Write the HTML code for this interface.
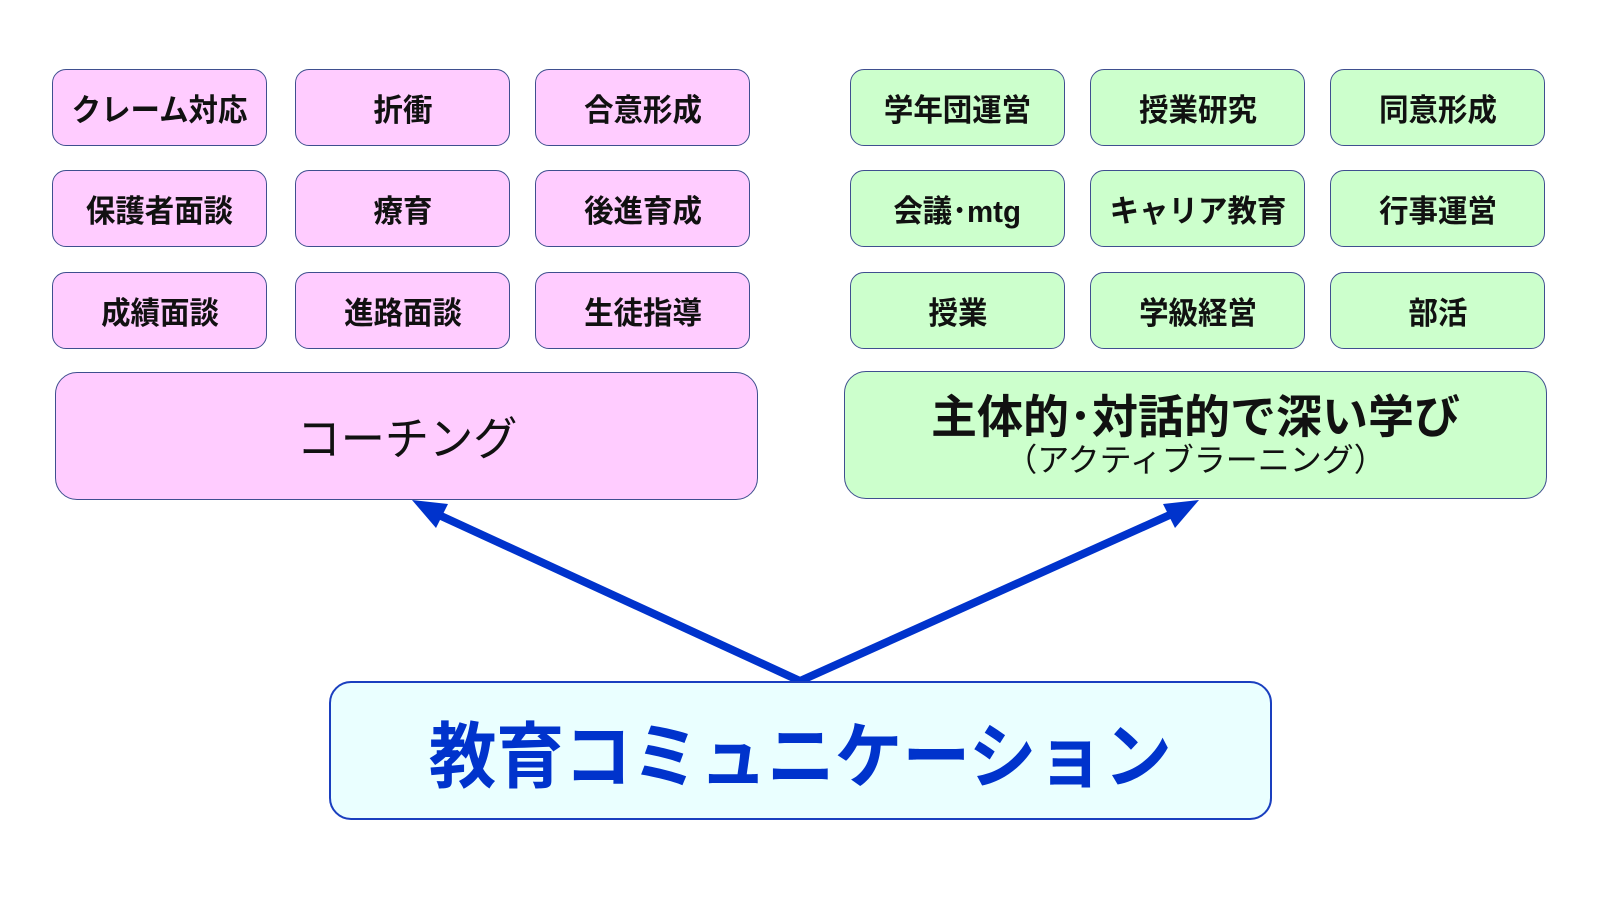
<!DOCTYPE html>
<html><head><meta charset="utf-8"><style>
html,body{margin:0;padding:0;background:#fff;}
body{width:1600px;height:900px;position:relative;overflow:hidden;font-family:"Liberation Sans","Noto Sans CJK JP",sans-serif;}
.b{position:absolute;box-sizing:border-box;border:1.5px solid #3f4f8f;border-radius:14px;display:flex;align-items:center;justify-content:center;flex-direction:column;color:#111;font-weight:bold;}
.p{background:#ffccff;}
.g{background:#ccffcc;}
.s{width:215px;height:77px;font-size:31px;}
.s span{display:inline-block;transform:scaleX(0.95);}
</style></head><body>
<div class="b p s" style="left:52px;top:69px"><span>クレーム対応</span></div>
<div class="b p s" style="left:295px;top:69px"><span>折衝</span></div>
<div class="b p s" style="left:535px;top:69px"><span>合意形成</span></div>
<div class="b p s" style="left:52px;top:170px"><span>保護者面談</span></div>
<div class="b p s" style="left:295px;top:170px"><span>療育</span></div>
<div class="b p s" style="left:535px;top:170px"><span>後進育成</span></div>
<div class="b p s" style="left:52px;top:272px"><span>成績面談</span></div>
<div class="b p s" style="left:295px;top:272px"><span>進路面談</span></div>
<div class="b p s" style="left:535px;top:272px"><span>生徒指導</span></div>

<div class="b g s" style="left:850px;top:69px"><span>学年団運営</span></div>
<div class="b g s" style="left:1090px;top:69px"><span>授業研究</span></div>
<div class="b g s" style="left:1330px;top:69px"><span>同意形成</span></div>
<div class="b g s" style="left:850px;top:170px"><span>会議･mtg</span></div>
<div class="b g s" style="left:1090px;top:170px"><span>キャリア教育</span></div>
<div class="b g s" style="left:1330px;top:170px"><span>行事運営</span></div>
<div class="b g s" style="left:850px;top:272px"><span>授業</span></div>
<div class="b g s" style="left:1090px;top:272px"><span>学級経営</span></div>
<div class="b g s" style="left:1330px;top:272px"><span>部活</span></div>

<div class="b p" style="left:55px;top:372px;width:703px;height:128px;border-radius:22px;font-size:46px;font-weight:normal;"><span style="display:inline-block;transform:scaleX(0.96)">コーチング</span></div>
<div class="b g" style="left:844px;top:371px;width:703px;height:128px;border-radius:22px;">
<div style="font-size:46px;line-height:50px;">主体的･対話的で深い学び</div>
<div style="font-size:32px;line-height:36px;font-weight:normal;">（アクティブラーニング）</div>
</div>

<svg width="1600" height="900" style="position:absolute;left:0;top:0">
<g stroke="#0033cc" stroke-width="8" fill="#0033cc">
<line x1="800" y1="681" x2="428" y2="510"/>
<line x1="800" y1="681" x2="1183" y2="509"/>
</g>
<polygon points="412,500 448,504 436,528" fill="#0033cc"/>
<polygon points="1199,500 1163,504 1175,528" fill="#0033cc"/>
</svg>

<div class="b" style="left:329px;top:681px;width:943px;height:139px;border-radius:22px;background:#eaffff;border:2px solid #1a3fbf;color:#0033cc;font-size:72px;"><span style="display:inline-block;transform:scaleX(0.94)">教育コミュニケーション</span></div>
</body></html>
